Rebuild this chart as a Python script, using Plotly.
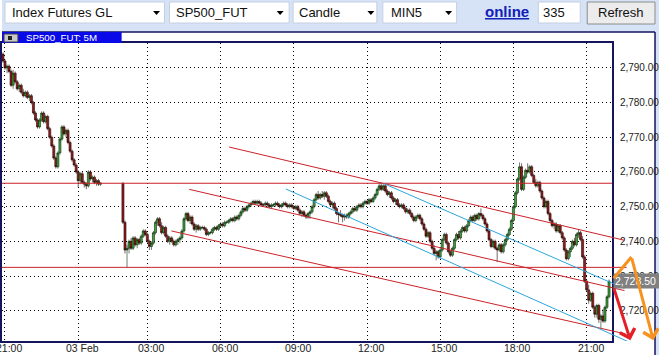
import plotly.graph_objects as go

W, H = 659, 355

# ---------------- data (5-minute bars, x = bar slot on the time axis) ----------------
bar_slot = list(range(-1, 48)) + list(range(58, 298))

bar_open = [
    2794.0, 2792.0, 2790.0, 2790.5, 2789.0, 2785.0, 2788.5, 2786.0, 2784.0, 2785.0,
    2783.0, 2782.0, 2783.0, 2781.5, 2782.0, 2780.0, 2777.0, 2775.0, 2773.0, 2775.0,
    2777.0, 2774.5, 2776.0, 2772.5, 2770.0, 2767.5, 2764.0, 2761.5, 2765.5, 2769.5,
    2773.0, 2771.0, 2772.0, 2768.5, 2766.0, 2763.5, 2762.0, 2760.0, 2757.5, 2759.5,
    2757.0, 2756.5, 2756.0, 2760.0, 2758.0, 2758.5, 2757.0, 2757.5, 2756.5,
    2756.75, 2745.5, 2737.5, 2738.0, 2740.0, 2738.0, 2741.0, 2739.0, 2740.5, 2739.5,
    2741.5, 2743.0, 2742.0, 2740.0, 2738.5, 2739.5, 2742.5, 2745.5, 2746.5, 2744.5,
    2742.5, 2744.0, 2741.5, 2740.0, 2741.0, 2740.0, 2739.0, 2740.0, 2740.5, 2741.0,
    2743.0, 2746.5, 2748.0, 2746.0, 2747.0, 2745.0, 2743.5, 2744.5, 2743.5, 2744.0,
    2744.0, 2743.5, 2742.0, 2742.5, 2742.5, 2743.5, 2744.0, 2743.5, 2744.5, 2745.0,
    2744.5, 2745.5, 2745.5, 2746.0, 2746.5, 2746.0, 2747.0, 2746.5, 2747.5, 2748.5,
    2749.5, 2749.0, 2750.0, 2750.5, 2751.0, 2751.5, 2751.0, 2751.5, 2751.0, 2750.5,
    2750.5, 2751.0, 2750.5, 2750.0, 2750.5, 2750.5, 2751.0, 2750.5, 2750.0, 2750.5,
    2751.0, 2750.5, 2750.0, 2750.5, 2750.0, 2749.5, 2750.0, 2749.0, 2748.0, 2748.5,
    2747.5, 2747.0, 2748.0, 2748.5, 2750.0, 2752.0, 2753.5, 2752.5, 2753.5, 2753.0,
    2754.0, 2753.0, 2751.5, 2750.5, 2751.0, 2749.5, 2748.0, 2747.75, 2747.5, 2747.0,
    2747.5, 2747.0, 2748.0, 2748.5, 2749.5, 2749.0, 2750.0, 2750.5, 2750.0, 2751.0,
    2751.5, 2751.0, 2752.0, 2751.5, 2752.5, 2753.5, 2755.0, 2756.0, 2755.0, 2756.0,
    2754.5, 2753.5, 2754.0, 2752.5, 2751.5, 2752.0, 2750.5, 2750.0, 2750.5, 2749.5,
    2748.5, 2749.0, 2748.0, 2747.0, 2746.0, 2747.0, 2747.5, 2746.5, 2745.0, 2743.5,
    2741.5, 2742.5, 2740.0, 2738.0, 2736.5, 2737.0, 2735.5, 2737.5, 2740.5, 2742.0,
    2739.5, 2737.0, 2736.0, 2738.0, 2740.5, 2742.0, 2741.0, 2743.0, 2744.0, 2743.0,
    2744.5, 2746.0, 2747.0, 2746.0, 2747.5, 2746.5, 2748.0, 2747.5, 2746.5, 2745.0,
    2743.0, 2740.5, 2738.5, 2740.0, 2738.0, 2737.5, 2739.0, 2737.0, 2739.0, 2740.5,
    2742.0, 2743.5, 2746.0, 2750.0, 2754.0, 2758.0, 2761.5, 2755.0, 2758.5, 2760.5,
    2760.0, 2761.5, 2759.0, 2757.0, 2756.0, 2757.0, 2754.5, 2752.5, 2750.0, 2751.5,
    2748.0, 2746.0, 2744.5, 2745.0, 2743.0, 2744.5, 2742.5, 2741.0, 2737.5, 2735.0,
    2737.0, 2738.0, 2740.0, 2739.0, 2742.0, 2742.5, 2740.5, 2735.5, 2728.5, 2726.0,
    2723.0, 2725.0, 2721.0, 2719.0, 2721.5, 2717.5, 2718.5, 2717.0, 2721.0, 2724.0,
]

bar_high = [
    2794.5, 2792.5, 2791.0, 2791.0, 2789.5, 2789.5, 2789.0, 2786.5, 2785.5, 2785.5,
    2784.0, 2783.5, 2783.5, 2782.5, 2782.5, 2780.5, 2777.5, 2775.5, 2775.5, 2777.5,
    2777.5, 2776.5, 2776.5, 2773.0, 2770.5, 2768.0, 2764.5, 2766.0, 2770.0, 2773.5,
    2773.5, 2772.5, 2772.5, 2769.0, 2766.5, 2764.0, 2762.5, 2760.5, 2760.0, 2760.0,
    2757.5, 2757.0, 2760.5, 2760.5, 2759.0, 2759.0, 2758.0, 2758.0, 2757.0,
    2757.0, 2746.0, 2739.0, 2740.5, 2741.0, 2741.5, 2741.5, 2741.0, 2741.0, 2742.0,
    2743.5, 2743.5, 2742.5, 2740.5, 2740.0, 2743.0, 2746.0, 2747.0, 2747.0, 2745.5,
    2744.5, 2744.5, 2742.0, 2741.5, 2741.5, 2740.5, 2740.5, 2741.0, 2741.5, 2743.5,
    2747.0, 2748.5, 2748.5, 2747.5, 2747.5, 2745.5, 2745.0, 2745.0, 2744.5, 2744.5,
    2744.5, 2744.0, 2743.0, 2743.0, 2744.0, 2744.5, 2744.5, 2745.0, 2745.5, 2745.5,
    2746.0, 2746.0, 2746.5, 2747.0, 2747.0, 2747.5, 2747.5, 2748.0, 2749.0, 2750.0,
    2750.0, 2750.5, 2751.0, 2751.5, 2752.0, 2752.0, 2752.0, 2752.0, 2751.5, 2751.0,
    2751.5, 2751.5, 2751.0, 2751.0, 2751.0, 2751.5, 2751.5, 2751.0, 2751.0, 2751.5,
    2751.5, 2751.0, 2751.0, 2751.0, 2750.5, 2750.5, 2750.5, 2749.5, 2749.0, 2749.0,
    2748.0, 2748.5, 2749.0, 2750.5, 2752.5, 2754.0, 2754.5, 2754.0, 2754.5, 2754.5,
    2754.5, 2753.5, 2752.0, 2751.5, 2751.5, 2750.0, 2748.5, 2749.0, 2748.0, 2748.0,
    2748.0, 2748.5, 2749.0, 2750.0, 2750.0, 2750.5, 2751.0, 2751.0, 2751.5, 2752.0,
    2752.0, 2752.5, 2752.5, 2753.0, 2754.0, 2755.5, 2756.75, 2756.75, 2756.5, 2756.5,
    2755.0, 2754.5, 2754.5, 2753.0, 2752.5, 2752.5, 2751.0, 2751.0, 2751.0, 2750.0,
    2749.5, 2749.5, 2748.5, 2747.5, 2747.5, 2748.0, 2748.0, 2747.0, 2745.5, 2744.0,
    2743.0, 2743.0, 2740.5, 2739.0, 2737.5, 2737.5, 2738.0, 2741.0, 2742.5, 2742.5,
    2740.0, 2737.5, 2738.5, 2741.0, 2742.5, 2743.0, 2743.5, 2744.5, 2744.5, 2745.0,
    2746.5, 2747.5, 2747.5, 2748.0, 2748.0, 2748.5, 2749.5, 2748.0, 2747.0, 2745.5,
    2743.5, 2741.0, 2740.5, 2740.5, 2738.5, 2739.5, 2739.5, 2739.5, 2741.0, 2742.5,
    2744.0, 2746.5, 2750.5, 2754.5, 2758.5, 2762.75, 2762.5, 2759.0, 2761.0, 2762.5,
    2762.0, 2762.0, 2759.5, 2758.0, 2757.5, 2757.5, 2755.0, 2753.0, 2752.0, 2752.0,
    2748.5, 2746.5, 2745.5, 2745.5, 2745.0, 2745.0, 2743.0, 2741.5, 2738.0, 2737.5,
    2738.5, 2740.5, 2741.0, 2742.5, 2743.5, 2743.0, 2741.5, 2736.0, 2729.0, 2727.5,
    2725.5, 2725.5, 2721.5, 2722.0, 2722.0, 2719.0, 2720.5, 2721.5, 2724.5, 2729.0,
]

bar_low = [
    2791.5, 2789.5, 2788.5, 2788.5, 2784.5, 2784.0, 2785.5, 2783.5, 2783.0, 2782.5,
    2781.5, 2781.5, 2781.0, 2780.5, 2779.5, 2776.5, 2774.5, 2772.5, 2772.5, 2774.5,
    2774.0, 2774.0, 2772.0, 2769.5, 2767.0, 2763.5, 2761.0, 2761.0, 2765.0, 2769.0,
    2770.5, 2770.0, 2768.0, 2765.5, 2763.0, 2761.5, 2759.5, 2755.5, 2756.5, 2756.5,
    2755.5, 2755.0, 2755.5, 2757.5, 2757.0, 2756.5, 2756.0, 2756.0, 2756.0,
    2745.0, 2736.5, 2732.5, 2736.5, 2737.5, 2737.5, 2738.5, 2738.0, 2739.0, 2739.0,
    2741.0, 2741.5, 2739.5, 2737.5, 2737.5, 2739.0, 2742.0, 2744.5, 2744.0, 2742.0,
    2742.0, 2741.0, 2739.5, 2739.0, 2739.5, 2738.5, 2738.5, 2739.0, 2739.5, 2740.5,
    2742.5, 2746.0, 2745.5, 2745.0, 2744.5, 2743.0, 2742.5, 2743.0, 2743.0, 2743.5,
    2743.0, 2741.5, 2741.5, 2742.0, 2742.0, 2743.0, 2743.0, 2743.0, 2744.0, 2744.0,
    2744.0, 2745.0, 2745.0, 2745.5, 2745.5, 2745.5, 2746.0, 2746.0, 2747.0, 2748.0,
    2748.5, 2748.5, 2749.5, 2750.0, 2750.5, 2750.5, 2750.5, 2750.5, 2750.0, 2750.0,
    2750.0, 2750.0, 2749.5, 2749.5, 2750.0, 2750.0, 2750.0, 2749.5, 2749.5, 2750.0,
    2750.0, 2749.5, 2749.5, 2749.5, 2749.0, 2749.0, 2748.5, 2747.5, 2747.0, 2747.0,
    2746.5, 2746.5, 2746.5, 2748.0, 2749.5, 2751.5, 2752.0, 2752.0, 2752.5, 2752.0,
    2752.5, 2751.0, 2750.0, 2749.5, 2749.0, 2747.5, 2745.5, 2747.0, 2745.5, 2746.0,
    2746.5, 2746.5, 2747.5, 2748.0, 2748.5, 2748.5, 2749.5, 2749.5, 2749.5, 2750.5,
    2750.5, 2750.5, 2751.0, 2751.0, 2752.0, 2753.0, 2754.5, 2754.5, 2754.5, 2754.0,
    2753.0, 2752.5, 2752.0, 2751.0, 2750.5, 2750.0, 2749.5, 2749.5, 2749.0, 2748.0,
    2748.0, 2747.5, 2746.5, 2745.5, 2745.5, 2746.5, 2746.0, 2744.5, 2743.0, 2741.0,
    2741.0, 2739.5, 2737.5, 2736.0, 2734.5, 2735.0, 2735.0, 2737.0, 2740.0, 2739.0,
    2736.5, 2735.5, 2735.5, 2737.5, 2740.0, 2740.5, 2740.5, 2742.5, 2742.5, 2742.5,
    2744.0, 2745.5, 2745.5, 2745.5, 2746.0, 2746.0, 2747.0, 2746.0, 2744.5, 2742.5,
    2740.0, 2738.0, 2738.0, 2737.5, 2734.0, 2737.0, 2736.5, 2736.5, 2738.5, 2740.0,
    2741.5, 2743.0, 2745.5, 2749.5, 2753.5, 2757.5, 2754.5, 2754.5, 2758.0, 2759.5,
    2759.5, 2758.5, 2756.5, 2755.5, 2755.5, 2754.0, 2752.0, 2749.5, 2749.5, 2747.5,
    2745.5, 2744.0, 2743.5, 2742.5, 2742.5, 2742.0, 2740.5, 2737.0, 2734.5, 2734.5,
    2735.5, 2737.5, 2738.5, 2738.5, 2741.0, 2740.0, 2735.0, 2728.0, 2725.5, 2722.0,
    2722.5, 2720.5, 2718.0, 2718.0, 2716.5, 2715.0, 2716.5, 2716.5, 2720.5, 2723.5,
]

bar_close = [
    2792.0, 2790.0, 2790.5, 2789.0, 2785.0, 2788.5, 2786.0, 2784.0, 2785.0, 2783.0,
    2782.0, 2783.0, 2781.5, 2782.0, 2780.0, 2777.0, 2775.0, 2773.0, 2775.0, 2777.0,
    2774.5, 2776.0, 2772.5, 2770.0, 2767.5, 2764.0, 2761.5, 2765.5, 2769.5, 2773.0,
    2771.0, 2772.0, 2768.5, 2766.0, 2763.5, 2762.0, 2760.0, 2757.5, 2759.5, 2757.0,
    2756.5, 2756.0, 2760.0, 2758.0, 2758.5, 2757.0, 2757.5, 2756.5, 2756.75,
    2745.5, 2737.5, 2738.0, 2740.0, 2738.0, 2741.0, 2739.0, 2740.5, 2739.5, 2741.5,
    2743.0, 2742.0, 2740.0, 2738.5, 2739.5, 2742.5, 2745.5, 2746.5, 2744.5, 2742.5,
    2744.0, 2741.5, 2740.0, 2741.0, 2740.0, 2739.0, 2740.0, 2740.5, 2741.0, 2743.0,
    2746.5, 2748.0, 2746.0, 2747.0, 2745.0, 2743.5, 2744.5, 2743.5, 2744.0, 2744.0,
    2743.5, 2742.0, 2742.5, 2742.5, 2743.5, 2744.0, 2743.5, 2744.5, 2745.0, 2744.5,
    2745.5, 2745.5, 2746.0, 2746.5, 2746.0, 2747.0, 2746.5, 2747.5, 2748.5, 2749.5,
    2749.0, 2750.0, 2750.5, 2751.0, 2751.5, 2751.0, 2751.5, 2751.0, 2750.5, 2750.5,
    2751.0, 2750.5, 2750.0, 2750.5, 2750.5, 2751.0, 2750.5, 2750.0, 2750.5, 2751.0,
    2750.5, 2750.0, 2750.5, 2750.0, 2749.5, 2750.0, 2749.0, 2748.0, 2748.5, 2747.5,
    2747.0, 2748.0, 2748.5, 2750.0, 2752.0, 2753.5, 2752.5, 2753.5, 2753.0, 2754.0,
    2753.0, 2751.5, 2750.5, 2751.0, 2749.5, 2748.0, 2747.75, 2747.5, 2747.0, 2747.5,
    2747.0, 2748.0, 2748.5, 2749.5, 2749.0, 2750.0, 2750.5, 2750.0, 2751.0, 2751.5,
    2751.0, 2752.0, 2751.5, 2752.5, 2753.5, 2755.0, 2756.0, 2755.0, 2756.0, 2754.5,
    2753.5, 2754.0, 2752.5, 2751.5, 2752.0, 2750.5, 2750.0, 2750.5, 2749.5, 2748.5,
    2749.0, 2748.0, 2747.0, 2746.0, 2747.0, 2747.5, 2746.5, 2745.0, 2743.5, 2741.5,
    2742.5, 2740.0, 2738.0, 2736.5, 2737.0, 2735.5, 2737.5, 2740.5, 2742.0, 2739.5,
    2737.0, 2736.0, 2738.0, 2740.5, 2742.0, 2741.0, 2743.0, 2744.0, 2743.0, 2744.5,
    2746.0, 2747.0, 2746.0, 2747.5, 2746.5, 2748.0, 2747.5, 2746.5, 2745.0, 2743.0,
    2740.5, 2738.5, 2740.0, 2738.0, 2737.5, 2739.0, 2737.0, 2739.0, 2740.5, 2742.0,
    2743.5, 2746.0, 2750.0, 2754.0, 2758.0, 2761.5, 2755.0, 2758.5, 2760.5, 2760.0,
    2761.5, 2759.0, 2757.0, 2756.0, 2757.0, 2754.5, 2752.5, 2750.0, 2751.5, 2748.0,
    2746.0, 2744.5, 2745.0, 2743.0, 2744.5, 2742.5, 2741.0, 2737.5, 2735.0, 2737.0,
    2738.0, 2740.0, 2739.0, 2742.0, 2742.5, 2740.5, 2735.5, 2728.5, 2726.0, 2723.0,
    2725.0, 2721.0, 2719.0, 2721.5, 2717.5, 2718.5, 2717.0, 2721.0, 2724.0, 2728.5,
]

for _lst in (bar_open, bar_high, bar_low, bar_close):
    assert len(_lst) == len(bar_slot), len(_lst)

tick_slot = [0, 36, 70, 106, 142, 178, 214, 250, 286]
tick_text = ["21:00", "03 Feb", "03:00", "06:00", "09:00", "12:00", "15:00", "18:00", "21:00"]
price_ticks = [2720, 2730, 2740, 2750, 2760, 2770, 2780, 2790]
last_price = 2728.50

# horizontal support / resistance levels (price, slot where the line ends)
level_price = [2756.75, 2732.5]
level_end = [298.5, 305.6]

# drawn trend lines (start slot, start price, end slot, end price)
red_x0 = [110.2, 90.6, 81.8]
red_p0 = [2767.2, 2755.0, 2743.0]
red_x1 = [304.6, 304.6, 305.1]
red_p1 = [2740.3, 2725.8, 2713.3]
blue_x0 = [138.1, 186.1]
blue_p0 = [2755.1, 2756.7]
blue_x1 = [307.1, 304.6]
blue_p1 = [2710.9, 2726.4]

# forecast arrows: orange zig-zag and red arrow (slot, price)
orange_x = [298.7, 308.0, 318.8]
orange_p = [2728.9, 2735.5, 2711.5]
red_arrow_x = [299.2, 307.5]
red_arrow_p = [2726.8, 2711.5]

# ---------------- geometry ----------------
PLOT_R = 612          # right edge of price pane (px)
PLOT_T, PLOT_B = 43, 341
x_range = [-1.47, 298.53]
slots_per_px = (x_range[1] - x_range[0]) / PLOT_R
x2_range = [x_range[0], x_range[0] + W * slots_per_px]
y_range = [2711.26, 2797.2]
y_dom = [(H - PLOT_B) / H, (H - PLOT_T) / H]

FONT = "Liberation Sans"
NAVY = "#15155e"
TB = "#d6e3f7"


def px(x):
    return x / W


def py(y):
    return 1 - y / H


def rect(x0, y0, x1, y1, fill, line=None, lw=0, layer="below"):
    return dict(type="rect", xref="paper", yref="paper", x0=px(x0), x1=px(x1),
                y0=py(y1), y1=py(y0), fillcolor=fill, layer=layer,
                line=dict(color=line or fill, width=lw))


def pline(x0, y0, x1, y1, color, w=1):
    return dict(type="line", xref="paper", yref="paper", x0=px(x0), x1=px(x1),
                y0=py(y0), y1=py(y1), line=dict(color=color, width=w), layer="below")


def tri(cx, cy):
    return dict(type="path", xref="paper", yref="paper", layer="above",
                path=f"M {px(cx-3.5)},{py(cy-2)} L {px(cx+3.5)},{py(cy-2)} L {px(cx)},{py(cy+2)} Z",
                fillcolor="#000", line=dict(color="#000", width=0))


fig = go.Figure()
fig.add_trace(go.Candlestick(
    x=bar_slot, open=bar_open, high=bar_high, low=bar_low, close=bar_close,
    increasing=dict(line=dict(color="#0a2a0a", width=0.6), fillcolor="#3fa03f"),
    decreasing=dict(line=dict(color="#200404", width=0.6), fillcolor="#951c1c"),
    whiskerwidth=0, hoverinfo="skip", showlegend=False,
))

shapes = []
# chrome: toolbar, frame, title bar
shapes.append(rect(0, 0, W, 32, TB))
shapes.append(rect(655, 32, W, H, TB))
shapes.append(pline(0, 32, 655, 32, NAVY, 1.5))
shapes.append(pline(655, 32, 655, H, NAVY, 1.5))
for (a, b) in [(3, 163), (168, 288), (292, 376), (382, 456), (538, 580)]:
    shapes.append(rect(a, 2, b, 23, "#ffffff", "#c4cfe0", 1))
shapes.append(rect(587, 2, 655, 24, "#ececec", "#8c8c8c", 1))
for cx in [155, 279, 370, 448]:
    shapes.append(tri(cx, 13))
shapes.append(rect(0, 32, 120, 43, "#0a0ae8", layer="above"))
shapes.append(rect(2, 34, 16, 42, "#c8c8c8", "#404040", 1, layer="above"))
shapes.append(rect(6, 36, 10, 40, "#202020", layer="above"))

# levels
for p, e in zip(level_price, level_end):
    shapes.append(dict(type="line", xref="x2", yref="y2", x0=x_range[0], x1=e, y0=p, y1=p,
                       line=dict(color="#cc2229", width=1), layer="above"))
for a, b, c, d in zip(red_x0, red_p0, red_x1, red_p1):
    shapes.append(dict(type="line", xref="x2", yref="y2", x0=a, y0=b, x1=c, y1=d,
                       line=dict(color="#cc2229", width=1), layer="above"))
for a, b, c, d in zip(blue_x0, blue_p0, blue_x1, blue_p1):
    shapes.append(dict(type="line", xref="x2", yref="y2", x0=a, y0=b, x1=c, y1=d,
                       line=dict(color="#2ba6dc", width=1), layer="above"))

ann = []


def txt(x, y, s, size=13, color="#111", bold=False, anchor="left"):
    ann.append(dict(xref="paper", yref="paper", x=px(x), y=py(y), text=s, showarrow=False,
                    xanchor=anchor, yanchor="middle",
                    font=dict(family=FONT, size=size, color=color,
                              weight="bold" if bold else "normal")))


txt(8, 12.5, "Index Futures GL")
txt(173, 12.5, "SP500_FUT")
txt(296, 12.5, "Candle")
txt(388, 12.5, "MIN5")
txt(482, 12, "<u>online</u>", size=15, color="#1020b8", bold=True)
txt(541, 12.5, "335")
txt(621, 13, "Refresh", anchor="center")
txt(22, 38, "SP500_FUT: 5M", size=9.7, color="#ffffff")

# time-axis labels, placed on the x axis at each tick slot
for s, t in zip(tick_slot, tick_text):
    ann.append(dict(xref="x", yref="paper", x=s, y=py(348), text=t, showarrow=False,
                    xanchor="center", yanchor="middle", xshift=4,
                    font=dict(family=FONT, size=10.5, color="#222")))

# last price tag
ann.append(dict(xref="paper", yref="y", x=px(PLOT_R + 1), y=last_price, text=f"{last_price:,.2f}",
                showarrow=False, xanchor="left", yanchor="middle", align="left",
                bgcolor="#808080", borderpad=1, width=50,
                font=dict(family=FONT, size=10.5, color="#ffffff")))
# forecast arrows
ann.append(dict(xref="x2", yref="y2", axref="x2", ayref="y2", x=orange_x[1], y=orange_p[1],
                ax=orange_x[0], ay=orange_p[0], text="", showarrow=True, arrowhead=0,
                arrowwidth=3, arrowcolor="#f7921e"))
ann.append(dict(xref="x2", yref="y2", axref="x2", ayref="y2", x=orange_x[2], y=orange_p[2],
                ax=orange_x[1], ay=orange_p[1], text="", showarrow=True, arrowhead=4,
                arrowsize=1, arrowwidth=3, arrowcolor="#f7921e"))
ann.append(dict(xref="x2", yref="y2", axref="x2", ayref="y2", x=red_arrow_x[1], y=red_arrow_p[1],
                ax=red_arrow_x[0], ay=red_arrow_p[0], text="", showarrow=True, arrowhead=4,
                arrowsize=1, arrowwidth=3, arrowcolor="#e41f26"))

fig.update_layout(
    width=W, height=H, margin=dict(l=0, r=0, t=0, b=0),
    paper_bgcolor="#ffffff", plot_bgcolor="rgba(0,0,0,0)",
    showlegend=False, boxgap=0, boxgroupgap=0,
    font=dict(family=FONT),
    xaxis=dict(domain=[0, PLOT_R / W], range=x_range, anchor="y",
               tickmode="array", tickvals=tick_slot, ticktext=tick_text,
               showticklabels=False,
               showgrid=True, gridcolor="#000000", griddash="1px,3px", gridwidth=1,
               showline=True, linecolor=NAVY, linewidth=1.5, mirror=True,
               ticks="", zeroline=False, fixedrange=True,
               rangeslider=dict(visible=False)),
    yaxis=dict(domain=y_dom, range=y_range, anchor="x", side="right",
               tickmode="array", tickvals=price_ticks, tickformat=",.2f",
               showgrid=True, gridcolor="#000000", griddash="1px,3px", gridwidth=1,
               showline=True, linecolor=NAVY, linewidth=1.5, mirror=True,
               ticks="", zeroline=False, fixedrange=True, ticklabeloverflow="allow",
               ticklabelstandoff=4,
               tickfont=dict(family=FONT, size=10, color="#222")),
    xaxis2=dict(domain=[0, 1], range=x2_range, anchor="y2", visible=False, fixedrange=True),
    yaxis2=dict(domain=y_dom, range=y_range, anchor="x2", visible=False, fixedrange=True),
    shapes=shapes, annotations=ann,
)

fig.write_html("out.html")
